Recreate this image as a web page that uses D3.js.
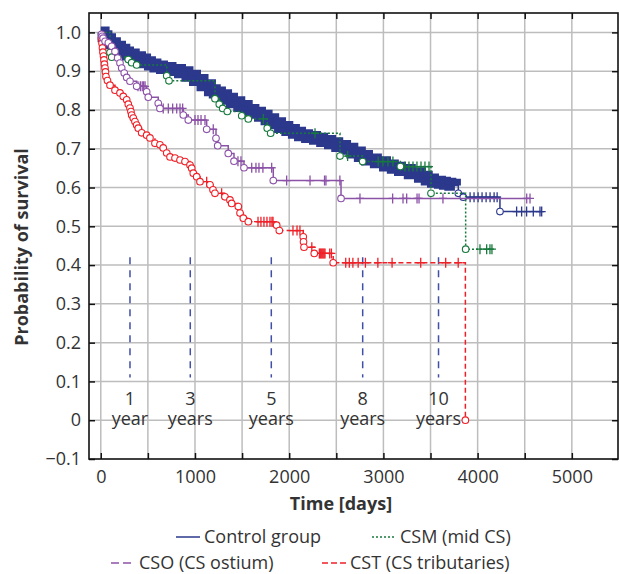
<!DOCTYPE html>
<html>
<head>
<meta charset="utf-8">
<script src="https://cdn.jsdelivr.net/npm/d3@7"></script>
<style>
  body { margin: 0; background: #fff; }
  text { font-family: "Open Sans", sans-serif; fill: #333; }
</style>
</head>
<body>
<svg id="chart" width="619" height="574"></svg>
<script>
// axis ticks
const gridDays = [0, 500, 1000, 1500, 2000, 2500, 3000, 3500, 4000, 4500, 5000];
const dayLabels = [0, 1000, 2000, 3000, 4000, 5000];
const probTicks = [-0.1, 0, 0.1, 0.2, 0.3, 0.4, 0.5, 0.6, 0.7, 0.8, 0.9, 1.0];

// year markers (days)
const yearDays = [310, 950, 1810, 2780, 3585];
const yearNumbers = ["1", "3", "5", "8", "10"];
const yearWords = ["year", "years", "years", "years", "years"];

// Control group: [day, survival] steps
const controlSteps = [
  [0, 1.0], [30, 0.99], [60, 0.982], [98, 0.972], [150, 0.963], [204, 0.955],
  [250, 0.948], [289, 0.943], [350, 0.936], [416, 0.93], [470, 0.923], [522, 0.917],
  [580, 0.912], [650, 0.908], [740, 0.903], [841, 0.897], [920, 0.888], [1000, 0.877],
  [1080, 0.864], [1159, 0.851], [1210, 0.845], [1265, 0.838], [1330, 0.829], [1393, 0.82],
  [1470, 0.81], [1549, 0.8], [1620, 0.793], [1690, 0.785], [1760, 0.776], [1830, 0.766],
  [1903, 0.756], [1980, 0.748], [2050, 0.741], [2115, 0.735], [2190, 0.73], [2274, 0.726],
  [2350, 0.72], [2433, 0.714], [2510, 0.707], [2593, 0.7], [2670, 0.69], [2750, 0.681],
  [2826, 0.672], [2920, 0.665], [3017, 0.657], [3100, 0.651], [3176, 0.645], [3280, 0.637],
  [3388, 0.628], [3460, 0.621], [3526, 0.615], [3600, 0.612], [3653, 0.61], [3710, 0.607],
  [3759, 0.605], [3795, 0.585], [3848, 0.575], [4237, 0.538]
];
const controlDenseUntil = 3765;
const controlCircleDays = [3795, 3848, 4237];
const controlCensored = [3920, 3962, 4005, 4047, 4090, 4132, 4175, 4207, 4414, 4467, 4520, 4591, 4662, 4680];

// CSM (mid CS)
const csmSteps = [
  [0, 1.0], [98, 0.948], [116, 0.936], [292, 0.93], [328, 0.922], [381, 0.916],
  [700, 0.888], [724, 0.875], [1212, 0.829], [1258, 0.815], [1294, 0.804], [1343, 0.796],
  [1496, 0.785], [1566, 0.777], [1767, 0.753], [1803, 0.74], [2539, 0.681], [2780, 0.667],
  [3180, 0.654], [3505, 0.585], [3873, 0.441]
];
const csmCensored = [1725, 2274, 2620, 2945, 2995, 3048, 3101, 3229, 3271, 3314, 3356,
  3399, 3441, 3484, 4025, 4096, 4131, 4152];

// CSO (CS ostium)
const csoSteps = [
  [0, 1.0], [8, 0.995], [15, 0.99], [25, 0.985], [46, 0.977], [80, 0.973], [116, 0.964],
  [151, 0.951], [179, 0.934], [204, 0.921], [222, 0.908], [249, 0.895], [275, 0.884],
  [310, 0.874], [381, 0.861], [487, 0.847], [504, 0.833], [610, 0.817], [628, 0.804],
  [876, 0.787], [929, 0.774], [1124, 0.75], [1223, 0.727], [1241, 0.708], [1353, 0.688],
  [1414, 0.668], [1520, 0.651], [1831, 0.618], [2550, 0.572]
];
const csoCensored = [395, 420, 440, 455, 470, 663, 717, 763, 806, 841, 869, 1000, 1032,
  1064, 1106, 1194, 1456, 1488, 1602, 1647, 1679, 1721, 1814, 1973, 2221, 2375, 2390,
  2538, 2751, 3098, 3208, 3247, 3357, 3378, 3632, 4521, 4556];

// CST (CS tributaries)
const cstSteps = [
  [0, 1.0], [7, 0.985], [13, 0.972], [18, 0.96], [23, 0.949], [29, 0.939], [34, 0.929],
  [39, 0.918], [45, 0.908], [50, 0.898], [55, 0.886], [71, 0.876], [98, 0.864],
  [151, 0.851], [204, 0.844], [239, 0.835], [275, 0.826], [292, 0.815], [310, 0.805],
  [320, 0.796], [328, 0.787], [345, 0.779], [363, 0.77], [381, 0.761], [398, 0.753],
  [434, 0.741], [487, 0.735], [522, 0.728], [575, 0.714], [628, 0.71], [663, 0.702],
  [700, 0.689], [735, 0.679], [788, 0.676], [841, 0.671], [894, 0.667], [947, 0.658],
  [965, 0.65], [982, 0.637], [1018, 0.628], [1053, 0.615], [1159, 0.607], [1191, 0.594],
  [1212, 0.585], [1318, 0.576], [1371, 0.568], [1389, 0.559], [1460, 0.551], [1478, 0.534],
  [1513, 0.521], [1566, 0.512], [1867, 0.503], [1895, 0.489], [2149, 0.473], [2152, 0.46],
  [2157, 0.446], [2266, 0.43], [2467, 0.406], [3870, 0]
];
const cstCensored = [1124, 1283, 1669, 1700, 1732, 1764, 1796, 1817, 1828, 2040, 2083,
  2114, 2240, 2320, 2330, 2340, 2350, 2360, 2370, 2380, 2430, 2448, 2600, 2638, 2676,
  2732, 2809, 2941, 3092, 3396, 3661, 3794];

const legendNames = ["Control group", "CSM (mid CS)", "CSO (CS ostium)", "CST (CS tributaries)"];

// layout
const margin = { top: 13, right: 1, bottom: 115, left: 89 };
const width = 619 - margin.left - margin.right;
const height = 574 - margin.top - margin.bottom;

const xScale = d3.scaleLinear().domain([-125, 5490]).range([0, width]);
const yScale = d3.scaleLinear().domain([-0.1, 1.05]).range([height, 0]);

const colors = { control: "#2b388c", csm: "#17793c", cso: "#8c52a8", cst: "#ee2028" };
const fontSize = "18px";

const svg = d3.select("#chart");
const chart = svg.append("g").attr("transform", `translate(${margin.left},${margin.top})`);

// grid
chart.append("g").selectAll("line").data(gridDays).enter().append("line")
  .attr("x1", (d) => xScale(d)).attr("x2", (d) => xScale(d))
  .attr("y1", 0).attr("y2", height)
  .attr("stroke", "#bdbdbd").attr("stroke-width", 1.5);
chart.append("g").selectAll("line").data(probTicks.slice(1)).enter().append("line")
  .attr("y1", (d) => yScale(d)).attr("y2", (d) => yScale(d))
  .attr("x1", 0).attr("x2", width)
  .attr("stroke", "#bdbdbd").attr("stroke-width", 1.5);

// axes (ticks inside the frame)
const fmtProb = (d) => (Math.abs(d) < 1e-9 ? "0" : d3.format(".1f")(d));
const styleAxis = (g) => {
  g.select(".domain").remove();
  g.selectAll(".tick line").attr("stroke", "#111").attr("stroke-width", 1.5);
  g.selectAll(".tick text").style("font-size", fontSize).attr("fill", "#333");
};
chart.append("g").attr("transform", `translate(0,${height})`)
  .call(d3.axisBottom(xScale).tickValues(gridDays).tickSize(-6).tickPadding(11)
    .tickFormat((d) => (dayLabels.includes(d) ? d : "")))
  .call(styleAxis);
chart.append("g")
  .call(d3.axisTop(xScale).tickValues(gridDays).tickSize(-6).tickFormat(""))
  .call(styleAxis);
chart.append("g")
  .call(d3.axisLeft(yScale).tickValues(probTicks).tickSize(-6).tickPadding(8).tickFormat(fmtProb))
  .call(styleAxis);
chart.append("g").attr("transform", `translate(${width},0)`)
  .call(d3.axisRight(yScale).tickValues(probTicks).tickSize(-6).tickFormat(""))
  .call(styleAxis);

// year markers
const years = chart.append("g");
years.selectAll("line").data(yearDays).enter().append("line")
  .attr("x1", (d) => xScale(d)).attr("x2", (d) => xScale(d))
  .attr("y1", yScale(0.42)).attr("y2", yScale(0.11))
  .attr("stroke", "#4050a8").attr("stroke-width", 1.5).attr("stroke-dasharray", "7,6");
years.selectAll(".num").data(yearDays).enter().append("text")
  .attr("x", (d) => xScale(d)).attr("y", yScale(0) - 15)
  .attr("text-anchor", "middle").style("font-size", fontSize)
  .text((d, i) => yearNumbers[i]);
years.selectAll(".word").data(yearDays).enter().append("text")
  .attr("x", (d) => xScale(d)).attr("y", yScale(0) + 5)
  .attr("text-anchor", "middle").style("font-size", fontSize)
  .text((d, i) => yearWords[i]);

// helpers
const survivalAt = (steps, day) => {
  let s = steps[0][1];
  for (const [t, v] of steps) if (t <= day) s = v;
  return s;
};
const stepLine = d3.line().x((d) => xScale(d[0])).y((d) => yScale(d[1])).curve(d3.curveStepAfter);
const withEnd = (steps, censored) => {
  const last = d3.max(censored.concat(steps.map((d) => d[0])));
  return steps.concat([[last, survivalAt(steps, last)]]);
};

function drawGroup(steps, censored, circleSteps, color, dash) {
  const g = chart.append("g");
  g.append("path").attr("d", stepLine(withEnd(steps, censored)))
    .attr("fill", "none").attr("stroke", color).attr("stroke-width", 1.5)
    .attr("stroke-dasharray", dash);
  g.selectAll(".cens").data(censored).enter().append("path")
    .attr("transform", (d) => `translate(${xScale(d)},${yScale(survivalAt(steps, d))})`)
    .attr("d", "M-4,0H4M0,-5V5")
    .attr("stroke", color).attr("stroke-width", 1.3);
  g.selectAll("circle").data(circleSteps).enter().append("circle")
    .attr("cx", (d) => xScale(d[0])).attr("cy", (d) => yScale(d[1])).attr("r", 3.3)
    .attr("fill", "#fff").attr("stroke", color).attr("stroke-width", 1.1);
  return g;
}

// control group: dense part looks like a thick band
chart.append("path")
  .attr("d", stepLine(controlSteps.filter((d) => d[0] <= controlDenseUntil)))
  .attr("fill", "none").attr("stroke", colors.control).attr("stroke-width", 12);
drawGroup(controlSteps, controlCensored,
  controlSteps.filter((d) => controlCircleDays.includes(d[0])), colors.control, null);
drawGroup(cstSteps, cstCensored, cstSteps.slice(1), colors.cst, "5,3");
drawGroup(csmSteps, csmCensored, csmSteps.slice(1), colors.csm, "2,2");
drawGroup(csoSteps, csoCensored, csoSteps.slice(1), colors.cso, null);

// frame
chart.append("rect").attr("width", width).attr("height", height)
  .attr("fill", "none").attr("stroke", "#111").attr("stroke-width", 1.6);

// axis titles
svg.append("text").attr("x", 341).attr("y", 510).attr("text-anchor", "middle")
  .style("font-size", fontSize).style("font-weight", "bold").attr("fill", "#111")
  .text("Time [days]");
svg.append("text").attr("transform", "translate(28,247) rotate(-90)")
  .attr("text-anchor", "middle").style("font-size", fontSize).style("font-weight", "bold")
  .attr("fill", "#111").text("Probability of survival");

// legend
const legendItems = [
  { name: legendNames[0], color: colors.control, dash: null, x: 176, y: 537 },
  { name: legendNames[1], color: colors.csm, dash: "2,2", x: 372, y: 537 },
  { name: legendNames[2], color: colors.cso, dash: "8,4", x: 111, y: 563 },
  { name: legendNames[3], color: colors.cst, dash: "6,3", x: 322, y: 563 }
];
const legend = svg.append("g").selectAll("g").data(legendItems).enter().append("g")
  .attr("transform", (d) => `translate(${d.x},${d.y})`);
legend.append("line").attr("x1", 0).attr("x2", 24)
  .attr("stroke", (d) => d.color).attr("stroke-width", 1.5)
  .attr("stroke-dasharray", (d) => d.dash);
legend.append("text").attr("x", 28).attr("dy", "0.35em")
  .style("font-size", fontSize).text((d) => d.name);
</script>
</body>
</html>
